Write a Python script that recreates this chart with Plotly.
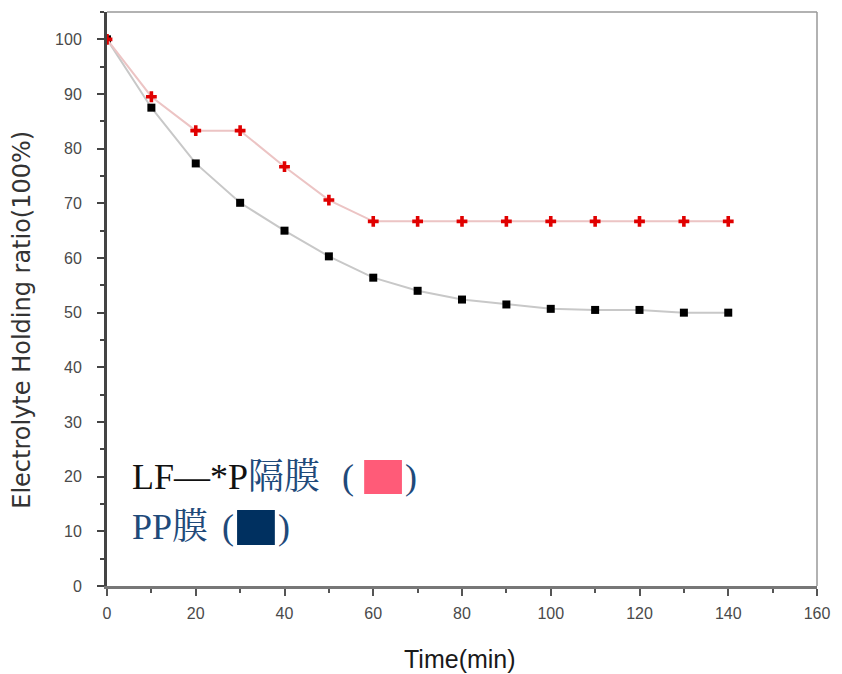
import plotly.graph_objects as go

# Electrolyte holding ratio over time for two separator membranes
time_min = [0, 10, 20, 30, 40, 50, 60, 70, 80, 90, 100, 110, 120, 130, 140]
lf_p_ratio = [100, 89.5, 83.3, 83.3, 76.7, 70.6, 66.7, 66.7, 66.7, 66.7, 66.7, 66.7, 66.7, 66.7, 66.7]
pp_ratio = [100, 87.5, 77.3, 70.1, 65.0, 60.3, 56.4, 54.0, 52.4, 51.5, 50.7, 50.5, 50.5, 50.0, 50.0]

x_ticks = [0, 20, 40, 60, 80, 100, 120, 140, 160]
y_ticks = [0, 10, 20, 30, 40, 50, 60, 70, 80, 90, 100]

fig = go.Figure()

fig.add_trace(go.Scatter(
    x=time_min, y=pp_ratio, mode="lines+markers",
    line=dict(color="#c8c8c8", width=2),
    marker=dict(symbol="square", size=8, color="#000000"),
    showlegend=False,
))
fig.add_trace(go.Scatter(
    x=time_min, y=lf_p_ratio, mode="lines+markers",
    line=dict(color="#ecc4c4", width=2),
    marker=dict(symbol="cross", size=9, color="#e00000"),
    showlegend=False,
))

sans = "Liberation Sans Narrow, Liberation Sans, Arial"
tick_font = dict(family=sans, size=16, color="#4a4a4a")

fig.update_xaxes(
    range=[0, 160], tickvals=x_ticks, ticktext=[str(v) for v in x_ticks],
    showgrid=False, zeroline=False,
    showline=True, linecolor="#777777", linewidth=3, mirror=False,
    ticks="outside", ticklen=7, tickwidth=2, tickcolor="#555555",
    minor=dict(ticks="outside", ticklen=4, tickwidth=2, tickcolor="#555555", dtick=10),
    tickfont=tick_font, ticklabelstandoff=4,
)
fig.update_yaxes(
    range=[0, 105], tickvals=y_ticks, ticktext=[str(v) for v in y_ticks],
    showgrid=False, zeroline=False,
    showline=True, linecolor="#444444", linewidth=3, mirror=False,
    ticks="outside", ticklen=7, tickwidth=2, tickcolor="#444444",
    minor=dict(ticks="outside", ticklen=4, tickwidth=2, tickcolor="#444444", dtick=5),
    tickfont=tick_font, ticklabelstandoff=12,
)

# Axis titles
fig.add_annotation(
    xref="paper", yref="paper", x=0.497, y=-0.127, xanchor="center", yanchor="middle",
    showarrow=False, text="Time(min)",
    font=dict(family=sans, size=25, color="#1a1a1a"),
)
fig.add_annotation(
    xref="paper", yref="paper", x=-0.119, y=0.463, xanchor="center", yanchor="middle",
    showarrow=False, textangle=-90, text="Electrolyte Holding ratio(100%)",
    font=dict(family="DejaVu Sans, Liberation Sans", size=24, color="#333333"),
)

# Thin frame on top and right
fig.add_shape(type="line", xref="paper", yref="paper", x0=0, x1=1, y0=1, y1=1,
              line=dict(color="#999999", width=1.5))
fig.add_shape(type="line", xref="paper", yref="paper", x0=1, x1=1, y0=0, y1=1,
              line=dict(color="#999999", width=1.5))

# Membrane key: text with colour swatches between the brackets
serif = "Liberation Serif, Noto Serif CJK SC, Noto Sans CJK SC, serif"
blue = "#1f4a7a"
key_font = dict(family=serif, size=36, color=blue)


def key_text(x, y, text, anchor="left"):
    fig.add_annotation(
        xref="paper", yref="paper", x=x, y=y, xanchor=anchor, yanchor="middle",
        showarrow=False, align="left", text=text, font=key_font,
    )


key_text(0.032, 0.19, f"<span style='color:#111111'>LF—*P</span>隔膜")
key_text(0.350, 0.19, "(", anchor="right")
key_text(0.4168, 0.19, ")")
key_text(0.032, 0.103, "PP膜")
key_text(0.1818, 0.103, "(", anchor="right")
key_text(0.2378, 0.103, ")")

fig.add_shape(type="rect", xref="paper", yref="paper",
              x0=0.3622, x1=0.4154, y0=0.1603, y1=0.2195,
              line=dict(width=0), fillcolor="#ff5b78")
fig.add_shape(type="rect", xref="paper", yref="paper",
              x0=0.1832, x1=0.2364, y0=0.0714, y1=0.1324,
              line=dict(width=0), fillcolor="#003060")

fig.update_layout(
    width=842, height=674,
    margin=dict(l=107, r=20, t=12, b=88),
    plot_bgcolor="white", paper_bgcolor="white",
)

fig.write_html("out.html")
